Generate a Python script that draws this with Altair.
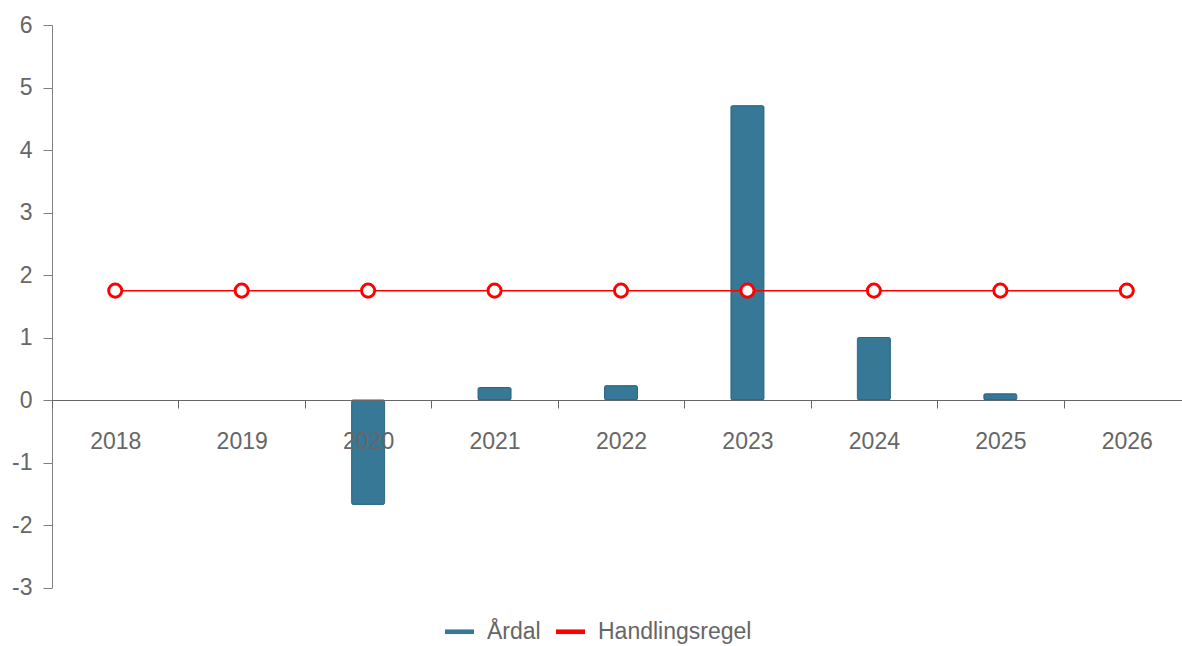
import altair as alt
import pandas as pd

# Årdal vs. handlingsregel, per year
years = ["2018", "2019", "2020", "2021", "2022", "2023", "2024", "2025", "2026"]
ardal = [None, None, -1.67, 0.20, 0.23, 4.71, 1.00, 0.10, None]
regel = [1.75, 1.75, 1.75, 1.75, 1.75, 1.75, 1.75, 1.75, 1.75]

series_names = ["Årdal", "Handlingsregel"]
series_colors = ["#367896", "#ff0000"]

W, H = 1130, 562.5
FONT = "Liberation Sans"
TEXT = "#666666"
FS = 23

bars_df = pd.DataFrame({"year": years, "value": ardal, "series": series_names[0]})
line_df = pd.DataFrame({"year": years, "value": regel, "series": series_names[1]})

x_enc = alt.X(
    "year:N",
    scale=alt.Scale(domain=years, paddingInner=0, paddingOuter=0, range=[0, 1138]),
    axis=alt.Axis(
        title=None, labelAngle=0, offset=-H / 3, tickBand="extent",
        grid=False, domainColor="#666666", tickColor="#666666",
        tickSize=8, labelPadding=22, labelFontSize=FS, labelColor=TEXT,
        labelFont=FONT, zindex=1,
    ),
)
y_enc = alt.Y(
    "value:Q",
    scale=alt.Scale(domain=[-3, 6], nice=False, zero=False),
    axis=alt.Axis(
        title=None, values=list(range(-3, 7)), grid=False,
        labelExpr="'' + datum.value",
        domainColor="#808080", tickColor="#808080", tickSize=9,
        labelPadding=11, labelFontSize=FS, labelColor=TEXT, labelFont=FONT,
    ),
)
color_enc = alt.Color(
    "series:N",
    scale=alt.Scale(domain=series_names, range=series_colors),
    legend=alt.Legend(
        title=None, orient="none", direction="horizontal",
        legendX=393, legendY=592,
        symbolType="M-1,-0.16L1,-0.16L1,0.16L-1,0.16Z", symbolSize=841,
        symbolStrokeWidth=0, labelFontSize=FS, labelColor=TEXT,
        labelFont=FONT, labelOffset=13, columnPadding=15,
    ),
)

bars = alt.Chart(bars_df).mark_bar(
    size=33, stroke="#2b6681", strokeWidth=1, cornerRadius=1.5
).encode(x=x_enc, y=y_enc, color=color_enc)

line = alt.Chart(line_df).mark_line(strokeWidth=1.5).encode(
    x=x_enc, y=y_enc, color=color_enc
)

points = alt.Chart(line_df).mark_point(
    shape="circle", filled=False, fill="white", fillOpacity=1,
    stroke="#ff0000", strokeWidth=3, size=170, opacity=1,
).encode(x=x_enc, y=y_enc)

chart = (
    alt.layer(bars, line, points)
    .properties(
        width=W, height=H,
        padding={"left": 52, "top": 25, "right": 0, "bottom": 58.5},
        autosize=alt.AutoSizeParams(type="none"),
    )
    .configure(background="white")
    .configure_view(strokeWidth=0, stroke="transparent")
)

chart.save("out.html", embed_options={"renderer": "svg", "actions": False})
